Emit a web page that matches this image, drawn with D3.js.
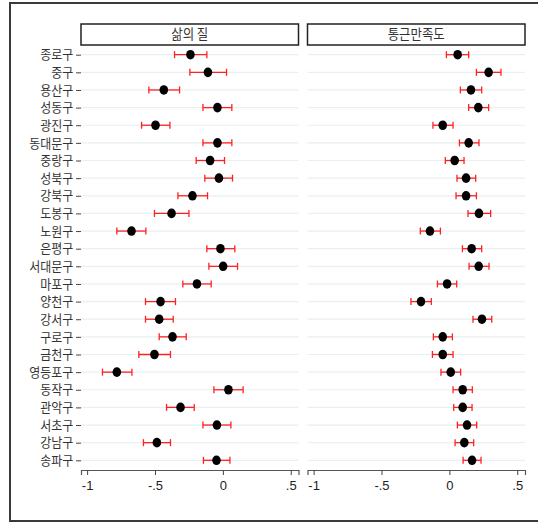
<!DOCTYPE html>
<html>
<head>
<meta charset="utf-8">
<script src="https://cdn.jsdelivr.net/npm/d3@7"></script>
<style>
  body { margin: 0; background: #fff; }
  svg { display: block; }
</style>
</head>
<body>
<div id="chart"></div>
<script>
// chart size
const width = 538;
const height = 522;

// districts, top to bottom
const districts = ["종로구", "중구", "용산구", "성동구", "광진구", "동대문구", "중랑구", "성북구",
  "강북구", "도봉구", "노원구", "은평구", "서대문구", "마포구", "양천구", "강서구", "구로구",
  "금천구", "영등포구", "동작구", "관악구", "서초구", "강남구", "송파구"];

// panel titles
const panels = ["삶의 질", "통근만족도"];

// 삶의 질: estimate, lower, upper
const lifeEst = [-0.239, -0.110, -0.435, -0.040, -0.496, -0.040, -0.094, -0.029,
  -0.224, -0.378, -0.673, -0.018, 0.002, -0.191, -0.459, -0.469, -0.371,
  -0.504, -0.781, 0.041, -0.312, -0.044, -0.486, -0.047];
const lifeLo = [-0.356, -0.243, -0.545, -0.147, -0.599, -0.147, -0.197, -0.133,
  -0.331, -0.504, -0.781, -0.118, -0.103, -0.295, -0.570, -0.570, -0.469,
  -0.619, -0.887, -0.066, -0.415, -0.147, -0.585, -0.143];
const lifeHi = [-0.118, 0.027, -0.319, 0.066, -0.390, 0.066, 0.012, 0.071,
  -0.113, -0.250, -0.567, 0.088, 0.108, -0.086, -0.349, -0.366, -0.270,
  -0.386, -0.670, 0.149, -0.211, 0.059, -0.386, 0.052];

// 통근만족도: estimate, lower, upper
const commEst = [0.061, 0.289, 0.159, 0.213, -0.049, 0.142, 0.039, 0.123,
  0.123, 0.218, -0.143, 0.164, 0.216, -0.017, -0.209, 0.240, -0.049,
  -0.049, 0.010, 0.098, 0.098, 0.130, 0.110, 0.167];
const commLo = [-0.022, 0.199, 0.081, 0.142, -0.121, 0.074, -0.030, 0.056,
  0.049, 0.137, -0.214, 0.096, 0.145, -0.088, -0.283, 0.174, -0.118,
  -0.125, -0.062, 0.027, 0.032, 0.059, 0.042, 0.101];
const commHi = [0.142, 0.380, 0.238, 0.289, 0.027, 0.218, 0.108, 0.194,
  0.199, 0.304, -0.066, 0.238, 0.292, 0.054, -0.133, 0.312, 0.022,
  0.027, 0.083, 0.169, 0.167, 0.201, 0.179, 0.233];

// x tick values and labels
const xTicks = [-1, -0.5, 0, 0.5];
const xTickLabels = ["-1", "-.5", "0", ".5"];

const series = [
  {est: lifeEst, lo: lifeLo, hi: lifeHi},
  {est: commEst, lo: commLo, hi: commHi}
];

// panel layout
const panelX = [81, 307.5];
const panelW = 217.5;
const headTop = 24, headBottom = 45;
const plotBottom = 470;
const squeeze = 0.92; // korean labels are a bit narrow in the original

const svg = d3.select("#chart")
  .append("svg")
  .attr("width", width)
  .attr("height", height);

// outer frame
svg.append("rect")
  .attr("x", 10).attr("y", 3)
  .attr("width", 560).attr("height", 518)
  .attr("fill", "none")
  .attr("stroke", "#3a3a3a")
  .attr("stroke-width", 2);

// y positions shared by both panels
const y = d3.scalePoint()
  .domain(districts)
  .range([headBottom, plotBottom])
  .padding(0.55);

// y axis labels
const yAxis = svg.append("g")
  .attr("transform", `translate(${panelX[0]},0)`)
  .call(d3.axisLeft(y).tickSize(5).tickPadding(2));
yAxis.select(".domain").remove();
yAxis.selectAll("line").attr("stroke", "#444");
yAxis.selectAll("text")
  .attr("font-family", "'Noto Sans CJK KR', sans-serif")
  .attr("font-size", "13px")
  .attr("fill", "#333")
  .attr("x", -8.5)
  .attr("transform", `scale(${squeeze},1)`);

panels.forEach((title, p) => {
  const x0 = panelX[p];
  const x = d3.scaleLinear()
    .domain([-1.045, 0.557])
    .range([x0, x0 + panelW]);
  const g = svg.append("g");
  const s = series[p];

  // header box
  g.append("rect")
    .attr("x", x0).attr("y", headTop)
    .attr("width", panelW).attr("height", headBottom - headTop)
    .attr("fill", "#fff")
    .attr("stroke", "#222")
    .attr("stroke-width", 1.5);
  const cx = x0 + panelW / 2;
  g.append("text")
    .attr("x", cx / squeeze).attr("y", headTop + 15)
    .attr("transform", `scale(${squeeze},1)`)
    .attr("text-anchor", "middle")
    .attr("font-family", "'Noto Sans CJK KR', sans-serif")
    .attr("font-size", "13.5px")
    .attr("fill", "#333")
    .text(title);

  // gridlines
  g.selectAll(".grid")
    .data(districts)
    .enter()
    .append("line")
    .attr("x1", x0).attr("x2", x0 + panelW)
    .attr("y1", d => y(d)).attr("y2", d => y(d))
    .attr("stroke", "#e8f0f1")
    .attr("stroke-width", 1.2);

  // x axis
  const xa = g.append("g")
    .attr("transform", `translate(0,${plotBottom})`)
    .call(d3.axisBottom(x).tickValues(xTicks)
      .tickFormat((d, i) => xTickLabels[i])
      .tickSizeOuter(0).tickSize(5).tickPadding(6));
  xa.select(".domain").attr("stroke", "#555").attr("stroke-width", 1.2);
  xa.selectAll("line").attr("stroke", "#444");
  xa.selectAll("text")
    .attr("font-family", "'Liberation Sans', Arial, sans-serif")
    .attr("font-size", "13px")
    .attr("fill", "#222");

  // confidence intervals
  const ci = g.selectAll(".ci")
    .data(districts)
    .enter()
    .append("g");
  ci.append("line")
    .attr("x1", (d, i) => x(s.lo[i])).attr("x2", (d, i) => x(s.hi[i]))
    .attr("y1", d => y(d)).attr("y2", d => y(d))
    .attr("stroke", "#ff2020").attr("stroke-width", 1.3);
  ci.append("line")
    .attr("x1", (d, i) => x(s.lo[i])).attr("x2", (d, i) => x(s.lo[i]))
    .attr("y1", d => y(d) - 3.5).attr("y2", d => y(d) + 3.5)
    .attr("stroke", "#ff2020").attr("stroke-width", 1.3);
  ci.append("line")
    .attr("x1", (d, i) => x(s.hi[i])).attr("x2", (d, i) => x(s.hi[i]))
    .attr("y1", d => y(d) - 3.5).attr("y2", d => y(d) + 3.5)
    .attr("stroke", "#ff2020").attr("stroke-width", 1.3);

  // point estimates
  g.selectAll(".dot")
    .data(districts)
    .enter()
    .append("ellipse")
    .attr("cx", (d, i) => x(s.est[i]))
    .attr("cy", d => y(d))
    .attr("rx", 4.3).attr("ry", 4.8)
    .attr("fill", "#000");
});
</script>
</body>
</html>
